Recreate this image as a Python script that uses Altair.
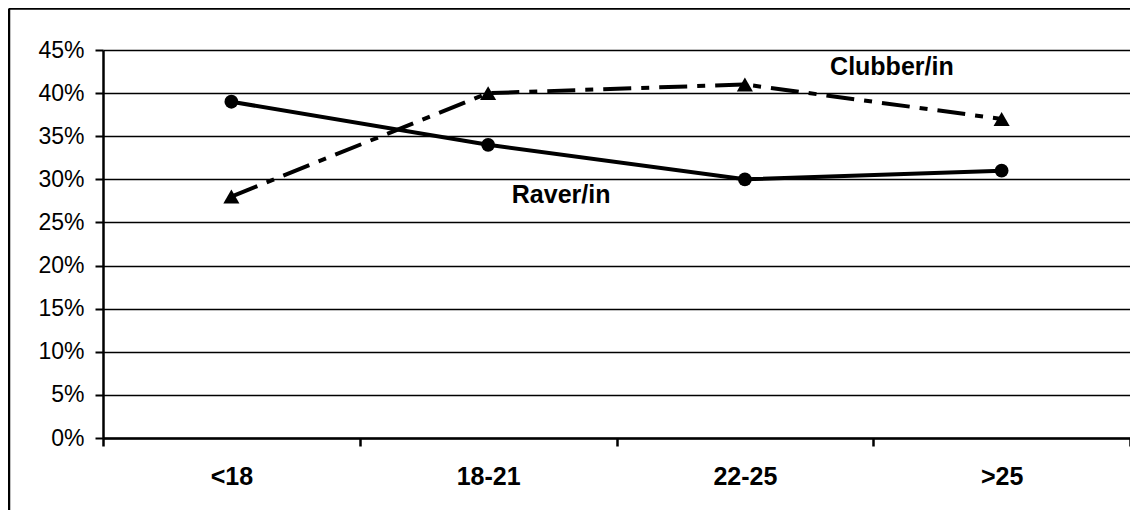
import altair as alt
import pandas as pd

ages = ["<18", "18-21", "22-25", ">25"]
raver = [0.39, 0.34, 0.30, 0.31]
clubber = [0.28, 0.40, 0.41, 0.37]
y_ticks = [0, 0.05, 0.10, 0.15, 0.20, 0.25, 0.30, 0.35, 0.40, 0.45]

label_text = ["Clubber/in", "Raver/in"]
label_age = ["22-25", "18-21"]
label_val = [0.43, 0.282]
label_dx = [147, 73]

df_r = pd.DataFrame({"age": ages, "val": raver})
df_c = pd.DataFrame({"age": ages, "val": clubber})

FONT = "Liberation Sans"

x_enc = alt.X("age:N", sort=ages, title=None,
              scale=alt.Scale(paddingInner=0, paddingOuter=0),
              axis=alt.Axis(labelAngle=0, tickBand="extent", labelFont=FONT,
                            labelFontSize=25, labelFontWeight="bold", labelColor="black",
                            labelPadding=18, tickSize=8, tickColor="black", tickWidth=2.5,
                            domainColor="black", domainWidth=2.5, grid=False))
y_enc = alt.Y("val:Q", title=None,
              scale=alt.Scale(domain=[0, 0.45], nice=False),
              axis=alt.Axis(values=y_ticks, format=".0%", labelFont=FONT, labelFontSize=23,
                            labelColor="black", labelPadding=11, tickSize=8,
                            tickColor="black", tickWidth=2, domainColor="black",
                            domainWidth=2.5, grid=True, gridColor="black",
                            gridWidth=1.6, gridOpacity=1))

raver_line = alt.Chart(df_r).mark_line(color="black", strokeWidth=4).encode(x=x_enc, y=y_enc)
raver_pts = alt.Chart(df_r).mark_point(shape="circle", filled=True, color="black",
                                       size=190, opacity=1).encode(x=x_enc, y=y_enc)
club_line = alt.Chart(df_c).mark_line(color="black", strokeWidth=4,
                                      strokeDash=[28, 10, 8, 10]).encode(x=x_enc, y=y_enc)
club_pts = alt.Chart(df_c).mark_point(shape="triangle-up", filled=True, color="black",
                                      size=260, opacity=1).encode(x=x_enc, y=y_enc)

lab_layers = []
for t, a, v, d in zip(label_text, label_age, label_val, label_dx):
    sub = pd.DataFrame({"age": [a], "val": [v], "txt": [t]})
    lab_layers.append(
        alt.Chart(sub).mark_text(font=FONT, fontSize=25, fontWeight="bold",
                                 color="black", dx=d).encode(
            x=alt.X("age:N", sort=ages), y=alt.Y("val:Q"), text="txt:N")
    )

one = alt.Data(values=[{"a": 1}])
frame_top = alt.Chart(one).mark_rule(color="black", strokeWidth=2.5).encode(
    x=alt.value(-94), x2=alt.value(1030), y=alt.value(-41.5))
frame_left = alt.Chart(one).mark_rule(color="black", strokeWidth=2.5).encode(
    x=alt.value(-94), y=alt.value(-41.5), y2=alt.value(470))

chart = alt.layer(raver_line, club_line, raver_pts, club_pts, *lab_layers,
                  frame_top, frame_left).resolve_scale(x="shared", y="shared").properties(
    width=1027, height=388,
    autosize=alt.AutoSizeParams(type="none"),
    padding={"left": 95, "top": 42, "right": 0, "bottom": 72},
).configure_view(stroke=None).configure(background="white")

chart.save("out.html", embed_options={"renderer": "svg", "actions": False})
